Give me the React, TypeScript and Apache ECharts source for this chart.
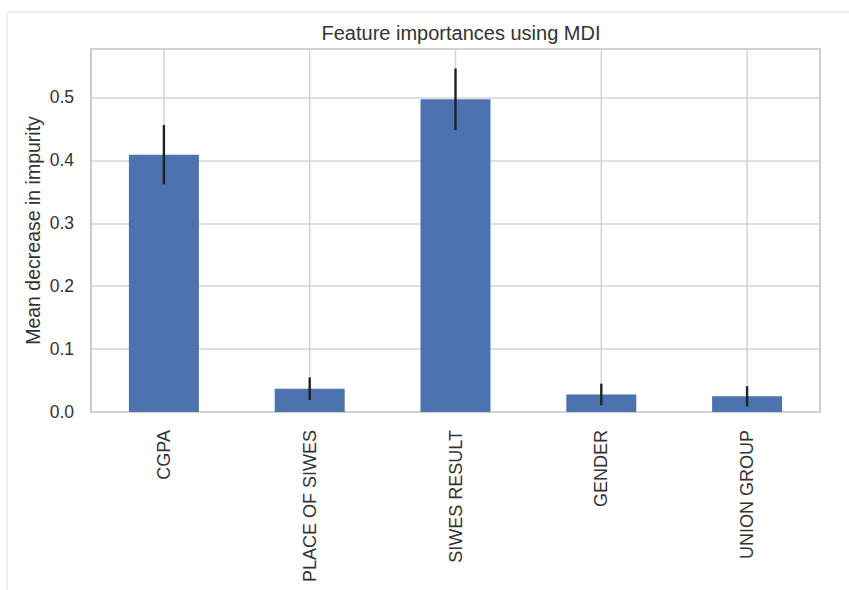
import React, { useEffect, useRef } from "react";
import * as echarts from "echarts";

// Feature importances (mean decrease in impurity) and their spread across trees
const features = ["CGPA", "PLACE OF SIWES", "SIWES RESULT", "GENDER", "UNION GROUP"];
const importances = [0.409, 0.037, 0.497, 0.028, 0.025];
const stdDev = [0.047, 0.018, 0.049, 0.017, 0.016];
const yTicks = [0, 0.1, 0.2, 0.3, 0.4, 0.5];

const FONT = "'Liberation Sans', Arial, Helvetica, sans-serif";
const TEXT = "#333333";
const GRID = "#d4d4d4";

export default function App() {
  const ref = useRef<HTMLDivElement>(null);

  useEffect(() => {
    if (!ref.current) return;
    const chart = echarts.init(ref.current, undefined, { renderer: "svg" });

    const errData = importances.map((v, i) => [i, v - stdDev[i], v + stdDev[i]]);
    const gridLineData = features.map((_, i) => [i]);

    chart.setOption({
      animation: false,
      backgroundColor: "#ffffff",
      textStyle: { fontFamily: FONT },
      title: {
        text: "Feature importances using MDI",
        left: 456,
        top: 18,
        textAlign: "center",
        textStyle: { fontFamily: FONT, fontSize: 20, fontWeight: "normal", color: TEXT },
      },
      graphic: [
        { type: "line", shape: { x1: 7, y1: 12, x2: 849, y2: 12 }, style: { stroke: "#eeeeee", lineWidth: 2 }, silent: true },
        { type: "line", shape: { x1: 7, y1: 12, x2: 7, y2: 590 }, style: { stroke: "#eeeeee", lineWidth: 2 }, silent: true },
      ],
      grid: {
        left: 91,
        right: 29,
        top: 49,
        bottom: 178,
        show: true,
        borderColor: "#cccccc",
        borderWidth: 2,
        backgroundColor: "transparent",
      },
      xAxis: {
        type: "category",
        data: features,
        axisLine: { show: false },
        axisTick: { show: false },
        splitLine: { show: false },
        axisLabel: {
          rotate: 90,
          margin: 18,
          fontFamily: FONT,
          fontSize: 18,
          color: TEXT,
          interval: 0,
        },
      },
      yAxis: {
        type: "value",
        min: 0,
        max: 0.577,
        interval: 0.1,
        name: "Mean decrease in impurity",
        nameLocation: "middle",
        nameGap: 48,
        nameMoveOverlap: false,
        nameRotate: 90,
        nameTextStyle: { fontFamily: FONT, fontSize: 19.5, color: TEXT },
        axisLine: { show: false },
        axisTick: { show: false },
        splitLine: { show: true, lineStyle: { color: GRID, width: 1.5 } },
        axisLabel: {
          margin: 17,
          fontFamily: FONT,
          fontSize: 17.5,
          color: TEXT,
          showMaxLabel: false,
          formatter: (v: number) => (yTicks.some((t) => Math.abs(t - v) < 1e-9) ? v.toFixed(1) : ""),
        },
      },
      series: [
        {
          // vertical gridlines through each category centre, beneath the bars
          type: "custom",
          z: 1,
          silent: true,
          data: gridLineData,
          renderItem: (params: any, api: any) => {
            const cs = params.coordSys;
            const x = api.coord([api.value(0), 0])[0];
            return {
              type: "line",
              shape: { x1: x, y1: cs.y, x2: x, y2: cs.y + cs.height },
              style: { stroke: GRID, lineWidth: 1.5 },
            };
          },
        },
        {
          type: "bar",
          z: 2,
          data: importances,
          barWidth: "48%",
          itemStyle: { color: "#4c72b0" },
        },
        {
          // error bars: importance ± standard deviation
          type: "custom",
          z: 3,
          silent: true,
          data: errData,
          renderItem: (params: any, api: any) => {
            const lo = api.coord([api.value(0), api.value(1)]);
            const hi = api.coord([api.value(0), api.value(2)]);
            return {
              type: "line",
              shape: { x1: lo[0], y1: lo[1], x2: hi[0], y2: hi[1] },
              style: { stroke: "#222222", lineWidth: 2.4 },
            };
          },
        },
      ],
    });

    return () => chart.dispose();
  }, []);

  return (
    <div
      ref={ref}
      style={{ position: "fixed", left: 0, top: 0, width: 849, height: 590 }}
    />
  );
}
